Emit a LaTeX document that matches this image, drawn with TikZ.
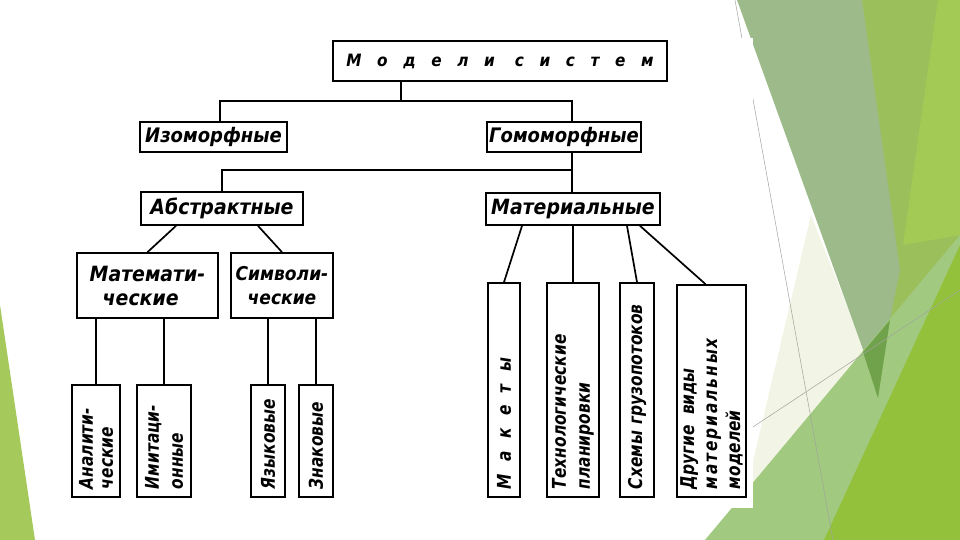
\documentclass[tikz,border=0pt]{standalone}
\usepackage{fontspec}
\setmainfont{DejaVu Sans}
\newfontfamily\gost[FakeStretch=0.9]{DejaVu Sans}
\newfontfamily\gostv[FakeStretch=0.81]{DejaVu Sans}
\definecolor{lgreen}{RGB}{166,201,91}
\definecolor{cream}{RGB}{242,245,229}
\definecolor{lightg}{RGB}{161,201,127}
\definecolor{satg}{RGB}{148,193,60}
\definecolor{ygreen}{RGB}{155,191,91}
\definecolor{ygreenb}{RGB}{164,202,86}
\definecolor{greyg}{RGB}{157,187,138}
\definecolor{darkg}{RGB}{112,162,76}
\definecolor{thinl}{RGB}{160,165,155}
\tikzset{
  conn/.style={line width=1.7pt, black},
  hbox/.style={draw, line width=1.7pt, inner sep=0pt, align=left,
    font=\gost\bfseries\itshape\fontsize{21}{24}\selectfont},
  vbox/.style={draw, line width=1.7pt, inner sep=0pt, rotate=90, align=left,
    font=\gostv\bfseries\itshape\fontsize{19}{22}\selectfont},
}
\begin{document}
\begin{tikzpicture}[x=1pt,y=-1pt]
\useasboundingbox (0,0) rectangle (960,540);
% slide decorations
\fill[lgreen] (0,305) -- (35,540) -- (0,540) -- cycle;
\fill[ygreen] (855,0) -- (960,0) -- (960,305) -- (890,320) -- cycle;
\fill[ygreenb] (938,0) -- (960,0) -- (960,235) -- (903,245) -- cycle;
\fill[cream] (811,215) -- (865,352) -- (745,495) -- cycle;
\fill[greyg] (737,0) -- (862,0) -- (900,270) -- (890,320) -- (865,355) -- cycle;
\fill[lightg] (705,540) -- (960,235) -- (960,540) -- cycle;
\fill[satg] (824,540) -- (960,245) -- (960,540) -- cycle;
\fill[darkg] (863,352) -- (890,320) -- (878,398) -- cycle;
\draw[thinl, line width=0.5pt] (735,0) -- (833,540);
\draw[thinl, line width=0.5pt] (700,462) -- (960,290);
% scanned sheet
\fill[white] (48,38) rectangle (753,508);
% boxes
\node[hbox, minimum width=334, minimum height=40, font=\gost\bfseries\itshape\fontsize{17}{21}\selectfont\addfontfeature{LetterSpace=92}] (title) at (500,61) {Модели\hspace{20pt}систем};
\node[hbox, minimum width=147, minimum height=30, font=\gost\bfseries\itshape\fontsize{20}{24}\selectfont] (iso) at (213.5,137) {Изоморфные};
\node[hbox, minimum width=154, minimum height=30, font=\gost\bfseries\itshape\fontsize{20}{24}\selectfont] (homo) at (564,137) {Гомоморфные};
\node[hbox, minimum width=162, minimum height=33] (abs) at (222,208.5) {Абстрактные};
\node[hbox, minimum width=174, minimum height=32] (mat) at (573,209) {Материальные};
\node[hbox, minimum width=141, minimum height=65] (matem) at (147.5,285.5) {Математи-\\\hspace*{13pt}ческие};
\node[hbox, minimum width=102, minimum height=65, font=\gost\bfseries\itshape\fontsize{19}{24}\selectfont] (sym) at (282,285.5) {Символи-\\\hspace*{12pt}ческие};
\node[vbox, minimum width=112, minimum height=48, text width=96, font=\gostv\bfseries\itshape\fontsize{19}{20}\selectfont] (ana) at (96,441) {Аналити-\\ческие};
\node[vbox, minimum width=112, minimum height=54, text width=96, font=\gostv\bfseries\itshape\fontsize{19}{24}\selectfont] (imi) at (164,441) {Имитаци-\\онные};
\node[vbox, minimum width=112, minimum height=34, text width=96] (yaz) at (268,441) {Языковые};
\node[vbox, minimum width=112, minimum height=34, text width=96] (zna) at (316,441) {Знаковые};
\node[vbox, minimum width=214, minimum height=32, text width=198, font=\gostv\bfseries\itshape\fontsize{19}{22}\selectfont\addfontfeature{LetterSpace=65}] (mak) at (504,390) {Макеты};
\node[vbox, minimum width=214, minimum height=52, text width=198, font=\gostv\bfseries\itshape\fontsize{19}{24}\selectfont] (teh) at (573,390) {Технологические\\планировки};
\node[vbox, minimum width=214, minimum height=34, text width=198] (sch) at (637,390) {Схемы грузопотоков};
\node[vbox, minimum width=212, minimum height=69, text width=196, font=\gostv\bfseries\itshape\fontsize{19}{23}\selectfont] (dru) at (711.5,391) {Другие\hspace{10pt}виды\\{\addfontfeature{LetterSpace=10}материальных}\\моделей};
% connectors
\coordinate (j1) at (401,101);
\coordinate (j2) at (572,170);
\draw[conn] ([xshift=-99pt]title.south) -- (j1);
\draw[conn] ([xshift=6.5pt]iso.north) |- (j1) -| ([xshift=8pt]homo.north);
\draw[conn] ([xshift=8pt]homo.south) -- (j2);
\draw[conn] (abs.north) |- (j2) -- (j2 |- mat.north);
\draw[conn] ([xshift=-46pt]abs.south) -- (matem.north);
\draw[conn] ([xshift=36pt]abs.south) -- (sym.north);
\draw[conn] (ana.east) -- (ana.east |- matem.south);
\draw[conn] (imi.east) -- (imi.east |- matem.south);
\draw[conn] (yaz.east) -- (yaz.east |- sym.south);
\draw[conn] (zna.east) -- (zna.east |- sym.south);
\draw[conn] ([xshift=-51pt]mat.south) -- (mak.east);
\draw[conn] (teh.east |- mat.south) -- (teh.east);
\draw[conn] ([xshift=54pt]mat.south) -- (sch.east);
\draw[conn] ([xshift=67pt]mat.south) -- ([xshift=-6pt]dru.east);
\end{tikzpicture}
\end{document}
